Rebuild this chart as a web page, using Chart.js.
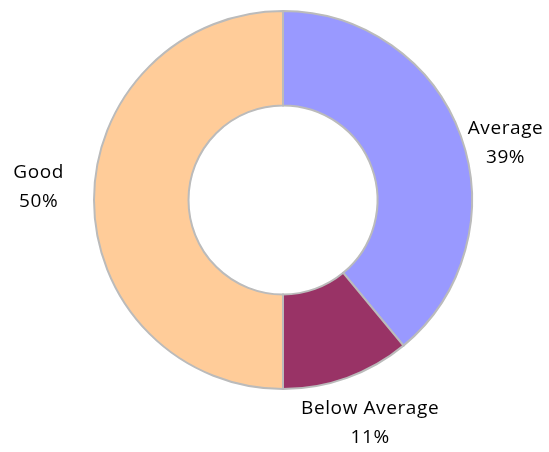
<!DOCTYPE html>
<html>
<head>
<meta charset="utf-8">
<script src="https://cdn.jsdelivr.net/npm/chart.js@4"></script>
<style>
  html, body { margin: 0; padding: 0; background: #fff; }
  #wrap { width: 549px; height: 452px; }
</style>
</head>
<body>
<div id="wrap"><canvas id="rating"></canvas></div>
<script>
// rating split, clockwise from 12 o'clock
const categories = ["Average", "Below Average", "Good"];
const shares = [39, 11, 50];
const sliceColors = ["#9999FF", "#993366", "#FFCC99"];

// radial gap plus a small x/y nudge for each outside label
const labelPads = [2, 18, 30];
const labelNudges = [[5, 8], [17, 0], [0, -13]];

// draws "Name / NN%" next to each slice
const outsideLabels = {
  id: "outsideLabels",
  afterDatasetsDraw(chart) {
    const { ctx } = chart;
    const meta = chart.getDatasetMeta(0);
    ctx.save();
    ctx.font = "19px 'Open Sans'";
    ctx.fillStyle = "#000";
    ctx.letterSpacing = "0.6px";
    meta.data.forEach((arc, i) => {
      const { x, y, startAngle, endAngle, outerRadius } = arc.getProps(
        ["x", "y", "startAngle", "endAngle", "outerRadius"], true);
      const mid = (startAngle + endAngle) / 2;
      const r = outerRadius + labelPads[i];
      const ax = x + Math.cos(mid) * r;
      const ay = y + Math.sin(mid) * r;
      const lines = [categories[i], shares[i] + "%"];
      const w = Math.max(...lines.map(t => ctx.measureText(t).width));
      const lineH = 28.5;
      const h = lineH * lines.length;
      const c = Math.cos(mid), s = Math.sin(mid);
      // shift the text block so its near edge sits at the anchor
      const sideways = Math.abs(c) >= Math.abs(s);
      let cx = ax + (sideways ? Math.sign(c) * w / 2 : 0) + labelNudges[i][0];
      let cy = ay + (!sideways ? Math.sign(s) * h / 2 : 0) + labelNudges[i][1];
      ctx.textAlign = "center";
      ctx.textBaseline = "middle";
      lines.forEach((t, k) => {
        ctx.fillText(t, cx, cy - h / 2 + lineH * (k + 0.5));
      });
    });
    ctx.restore();
  }
};

new Chart(document.getElementById("rating"), {
  type: "doughnut",
  data: {
    labels: categories,
    datasets: [{
      data: shares,
      backgroundColor: sliceColors,
      borderColor: "#BBBBBB",
      borderWidth: 2,
      borderJoinStyle: "miter"
    }]
  },
  options: {
    responsive: true,
    maintainAspectRatio: false,
    animation: false,
    cutout: "50%",
    layout: { padding: { left: 93, right: 76, top: 9, bottom: 61 } },
    plugins: {
      legend: { display: false },
      tooltip: { enabled: false }
    }
  },
  plugins: [outsideLabels]
});
</script>
</body>
</html>
